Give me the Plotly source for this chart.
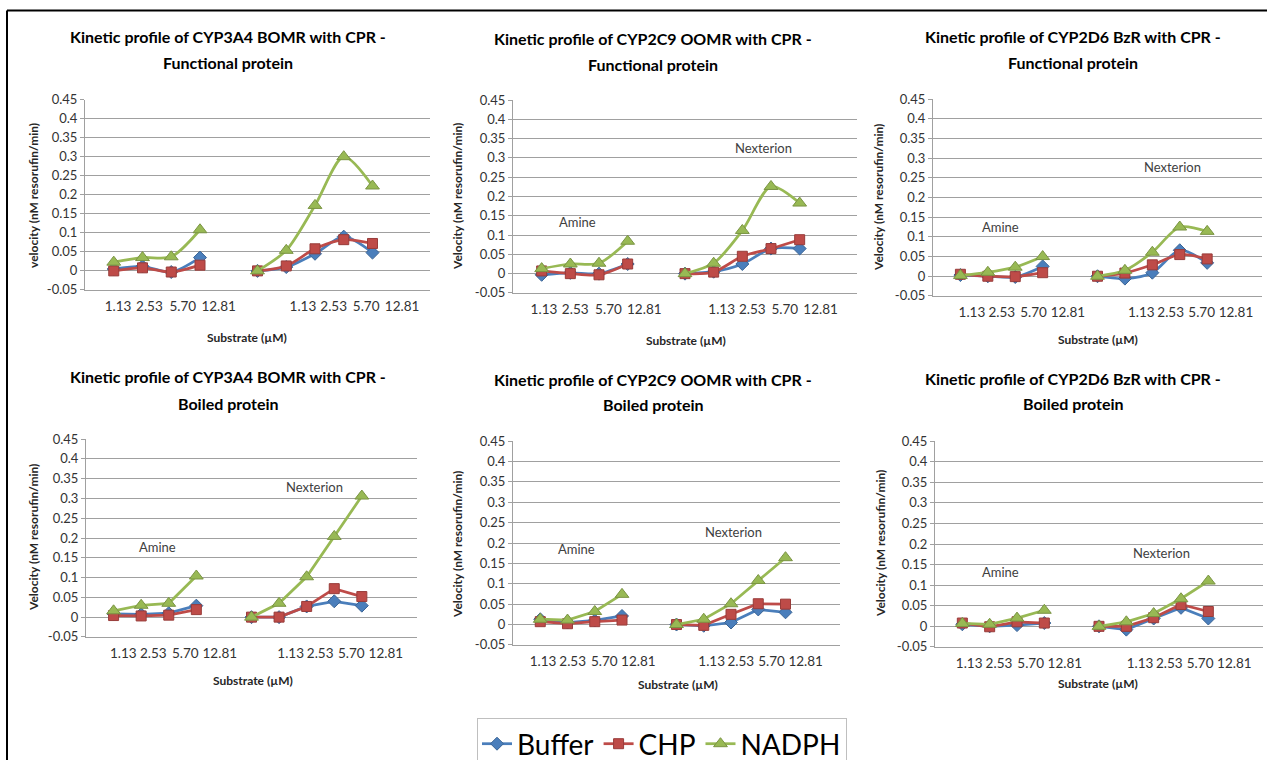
import plotly.graph_objects as go

# ---------------- data ----------------
SERIES = ["Buffer", "CHP", "NADPH"]
CONC_LABELS = ["1.13", "2.53", "5.70", "12.81"]
Y_TICK_VALUES = [-0.05, 0, 0.05, 0.1, 0.15, 0.2, 0.25, 0.3, 0.35, 0.4, 0.45]
Y_TICK_LABELS = ["-0.05", "0", "0.05", "0.1", "0.15", "0.2", "0.25", "0.3", "0.35", "0.4", "0.45"]
GROUP_LABELS = ["Amine", "Nexterion"]

PANEL_TITLES = [
    ("Kinetic profile of CYP3A4 BOMR with CPR -", "Functional protein"),
    ("Kinetic profile of CYP2C9 OOMR with CPR -", "Functional protein"),
    ("Kinetic profile of CYP2D6 BzR with CPR -", "Functional protein"),
    ("Kinetic profile of CYP3A4 BOMR with CPR -", "Boiled protein"),
    ("Kinetic profile of CYP2C9 OOMR with CPR -", "Boiled protein"),
    ("Kinetic profile of CYP2D6 BzR with CPR -", "Boiled protein"),
]
Y_TITLES = [
    "velocity (nM resorufin/min)",
    "Velocity (nM resorufin/min)",
    "Velocity (nM resorufin/min)",
    "Velocity (nM resorufin/min)",
    "Velocity (nM resorufin/min)",
    "Velocity (nM resorufin/min)",
]
X_TITLE = "Substrate (\u00b5M)"

# each list: 4 Amine values then 5 Nexterion values (first Nexterion point = blank control)
CYP3A4_FUNC_BUFFER = [0.005, 0.012, -0.003, 0.035, 0.0, 0.010, 0.045, 0.090, 0.048]
CYP3A4_FUNC_CHP = [0.000, 0.008, -0.003, 0.015, 0.0, 0.013, 0.058, 0.082, 0.072]
CYP3A4_FUNC_NADPH = [0.023, 0.035, 0.037, 0.108, 0.0, 0.054, 0.172, 0.300, 0.223]

CYP2C9_FUNC_BUFFER = [-0.003, 0.002, 0.000, 0.025, 0.0, 0.005, 0.025, 0.065, 0.065]
CYP2C9_FUNC_CHP = [0.007, 0.000, -0.003, 0.025, 0.0, 0.004, 0.045, 0.065, 0.088]
CYP2C9_FUNC_NADPH = [0.013, 0.025, 0.027, 0.084, 0.0, 0.027, 0.112, 0.226, 0.183]

CYP2D6_FUNC_BUFFER = [0.003, 0.000, -0.002, 0.025, 0.0, -0.006, 0.009, 0.066, 0.034]
CYP2D6_FUNC_CHP = [0.005, 0.000, -0.001, 0.009, 0.0, 0.008, 0.029, 0.055, 0.044]
CYP2D6_FUNC_NADPH = [0.002, 0.010, 0.023, 0.050, 0.0, 0.015, 0.061, 0.125, 0.114]

CYP3A4_BOIL_BUFFER = [0.008, 0.007, 0.010, 0.029, 0.0, 0.000, 0.027, 0.040, 0.029]
CYP3A4_BOIL_CHP = [0.004, 0.003, 0.005, 0.019, 0.0, 0.000, 0.027, 0.072, 0.052]
CYP3A4_BOIL_NADPH = [0.016, 0.030, 0.035, 0.104, 0.0, 0.035, 0.102, 0.204, 0.306]

CYP2C9_BOIL_BUFFER = [0.013, 0.005, 0.010, 0.021, 0.0, -0.003, 0.005, 0.037, 0.030]
CYP2C9_BOIL_CHP = [0.007, 0.002, 0.007, 0.011, 0.0, -0.002, 0.025, 0.051, 0.050]
CYP2C9_BOIL_NADPH = [0.013, 0.011, 0.032, 0.074, 0.0, 0.013, 0.051, 0.108, 0.164]

CYP2D6_BOIL_BUFFER = [0.005, 0.000, 0.003, 0.008, 0.0, -0.008, 0.019, 0.045, 0.019]
CYP2D6_BOIL_CHP = [0.008, -0.001, 0.011, 0.008, 0.0, 0.000, 0.021, 0.053, 0.036]
CYP2D6_BOIL_NADPH = [0.007, 0.005, 0.020, 0.039, 0.0, 0.011, 0.031, 0.067, 0.110]

PANEL_DATA = [
    (CYP3A4_FUNC_BUFFER, CYP3A4_FUNC_CHP, CYP3A4_FUNC_NADPH),
    (CYP2C9_FUNC_BUFFER, CYP2C9_FUNC_CHP, CYP2C9_FUNC_NADPH),
    (CYP2D6_FUNC_BUFFER, CYP2D6_FUNC_CHP, CYP2D6_FUNC_NADPH),
    (CYP3A4_BOIL_BUFFER, CYP3A4_BOIL_CHP, CYP3A4_BOIL_NADPH),
    (CYP2C9_BOIL_BUFFER, CYP2C9_BOIL_CHP, CYP2C9_BOIL_NADPH),
    (CYP2D6_BOIL_BUFFER, CYP2D6_BOIL_CHP, CYP2D6_BOIL_NADPH),
]

# ---------------- layout / style ----------------
W, H = 1267, 760
FONT = "Lato, 'Open Sans', sans-serif"
COLORS = ["#4A7EBB", "#BE4B48", "#98B954"]
EDGE = ["#3B6596", "#983C3A", "#7A9443"]
SYMBOLS = ["diamond", "square", "triangle-up"]
SIZES = [10, 10, 12]
GRID = "#A0A0A0"

# plot area pixel boxes: (left, right, top, bottom)
BOXES = [
    (85, 430, 99.5, 290),
    (513, 857, 100, 293),
    (933, 1262, 99, 296),
    (86, 417, 439, 637),
    (513, 840, 441, 645),
    (935, 1263, 441, 647),
]
TITLE_POS = [(228, 37, 63), (653, 39, 64), (1073, 37, 62),
             (228, 377, 403), (653, 379, 404), (1073, 378, 403)]
YTITLE_POS = [(33, 196), (458, 197), (878, 198), (33, 538), (457, 544), (880, 544)]
XTITLE_POS = [(247, 338), (686, 340), (1098, 339), (253, 680), (678, 684), (1098, 683)]
GROUP_TEXT_POS = [None,
                  ((2.26, 0.134), (8.75, 0.326)),
                  ((2.48, 0.125), (8.72, 0.277)),
                  ((2.58, 0.177), (8.29, 0.329)),
                  ((2.34, 0.185), (8.10, 0.227)),
                  ((2.38, 0.132), (8.28, 0.178))]
TICK_START = [(1.15, 7.58), (1.08, 7.28), (1.42, 7.60), (1.35, 7.42), (1.10, 7.29), (1.25, 7.50)]
AMINE_STEP = [0, 1.09, 2.25, 3.5]
NEX_STEP = [0, 1.07, 2.2, 3.45]
SPLINE = [True, True, True, False, False, False]

X_POS = [1, 2, 3, 4, 5, 6, 7, 8, 9, 10]  # category slots, slot 5 is empty


def px_x(v):
    return v / W


def px_y(v):
    return 1 - v / H


fig = go.Figure()
annotations = []

for i, data in enumerate(PANEL_DATA):
    n = i + 1
    xa = "x" if n == 1 else f"x{n}"
    ya = "y" if n == 1 else f"y{n}"
    for s, vals in enumerate(data):
        yv = list(vals[:4]) + [None] + list(vals[4:])
        fig.add_trace(go.Scatter(
            x=X_POS, y=yv, xaxis=xa, yaxis=ya,
            name=SERIES[s], legendgroup=SERIES[s], showlegend=(i == 0),
            mode="lines+markers", connectgaps=False,
            line=dict(color=COLORS[s], width=2.75,
                      shape="spline" if SPLINE[i] else "linear", smoothing=0.8),
            marker=dict(symbol=SYMBOLS[s], size=SIZES[s], color=COLORS[s],
                        line=dict(color=EDGE[s], width=1)),
        ))

    l, r, t, b = BOXES[i]
    tickvals = [TICK_START[i][0] + d for d in AMINE_STEP] + [TICK_START[i][1] + d for d in NEX_STEP]
    ticktext = CONC_LABELS + CONC_LABELS
    xkey = "xaxis" if n == 1 else f"xaxis{n}"
    ykey = "yaxis" if n == 1 else f"yaxis{n}"
    fig.update_layout(**{
        xkey: dict(domain=[px_x(l), px_x(r)], range=[0, 12], anchor=ya,
                   showgrid=False, zeroline=False, showline=True, linecolor=GRID, linewidth=1,
                   tickvals=tickvals, ticktext=ticktext, ticks="outside", ticklen=4,
                   tickcolor="rgba(0,0,0,0)",
                   tickfont=dict(family=FONT, size=13.5, color="#333333"), fixedrange=True),
        ykey: dict(domain=[px_y(b), px_y(t)], range=[-0.0502, 0.4502], anchor=xa,
                   showgrid=True, gridcolor=GRID, gridwidth=1, zeroline=False,
                   showline=True, linecolor=GRID, linewidth=1,
                   tickvals=Y_TICK_VALUES, ticktext=Y_TICK_LABELS,
                   ticks="outside", ticklen=4, tickcolor=GRID,
                   tickfont=dict(family=FONT, size=13, color="#333333"), fixedrange=True),
    })

    cx, ty1, ty2 = TITLE_POS[i]
    for line_text, ty in zip(PANEL_TITLES[i], (ty1, ty2)):
        annotations.append(dict(text=f"<b>{line_text}</b>", x=px_x(cx), y=px_y(ty),
                                xref="paper", yref="paper", showarrow=False,
                                xanchor="center", yanchor="middle",
                                font=dict(family=FONT, size=16, color="#000000")))
    yx, yy = YTITLE_POS[i]
    annotations.append(dict(text=f"<b>{Y_TITLES[i]}</b>", x=px_x(yx), y=px_y(yy),
                            xref="paper", yref="paper", showarrow=False, textangle=-90,
                            xanchor="center", yanchor="middle",
                            font=dict(family=FONT, size=12, color="#262626")))
    xx, xy = XTITLE_POS[i]
    annotations.append(dict(text=f"<b>{X_TITLE}</b>", x=px_x(xx), y=px_y(xy),
                            xref="paper", yref="paper", showarrow=False,
                            xanchor="center", yanchor="middle",
                            font=dict(family=FONT, size=12, color="#262626")))
    if GROUP_TEXT_POS[i]:
        for label, (gx, gy) in zip(GROUP_LABELS, GROUP_TEXT_POS[i]):
            annotations.append(dict(text=label, x=gx, y=gy, xref=xa, yref=ya,
                                    showarrow=False, xanchor="center", yanchor="middle",
                                    font=dict(family=FONT, size=13, color="#404040")))

# outer frame (top and left edges visible)
shapes = [
    dict(type="line", xref="paper", yref="paper", x0=px_x(7), x1=1.0, y0=px_y(10.5), y1=px_y(10.5),
         line=dict(color="#000000", width=2)),
    dict(type="line", xref="paper", yref="paper", x0=px_x(7), x1=px_x(7), y0=px_y(10.5), y1=0,
         line=dict(color="#000000", width=2)),
]

fig.update_layout(
    width=W, height=H,
    margin=dict(l=0, r=0, t=0, b=0, pad=0, autoexpand=False),
    paper_bgcolor="white", plot_bgcolor="white",
    annotations=annotations, shapes=shapes,
    showlegend=True,
    legend=dict(orientation="h", x=px_x(662), y=px_y(718), xanchor="center", yanchor="top",
                font=dict(family=FONT, size=28, color="#000000"),
                bordercolor="#BFBFBF", borderwidth=1, bgcolor="white",
                itemwidth=30, tracegroupgap=0),
    font=dict(family=FONT),
)

fig.write_html("out.html",
               config={"displayModeBar": False},
               post_script="document.body.style.margin='0px';document.body.style.overflow='hidden';")
